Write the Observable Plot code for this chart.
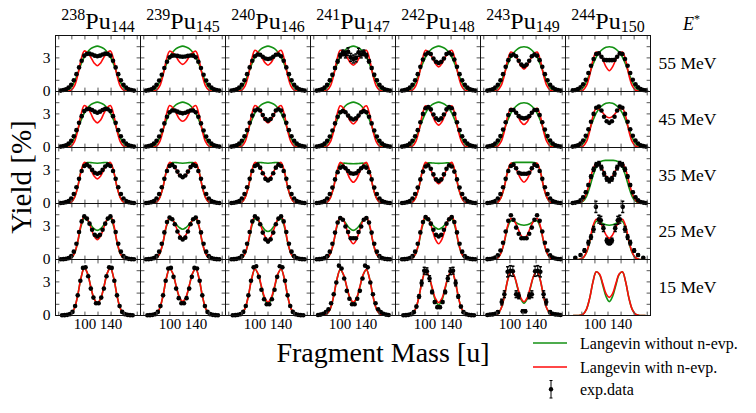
<!DOCTYPE html>
<html><head><meta charset="utf-8">
<script src="https://cdn.jsdelivr.net/npm/d3@7"></script>
<script src="https://cdn.jsdelivr.net/npm/@observablehq/plot@0.6"></script>
<style>body{margin:0;background:#fff} svg{display:block} svg text{font-family:'Liberation Serif','Times New Roman',serif}</style>
</head><body><div id="chart"></div>
<script>
// ---------- categories / ticks ----------
const massNumbers = [238,239,240,241,242,243,244];
const neutronNumbers = [144,145,146,147,148,149,150];
const energies = [55,45,35,25,15];
const centers = [119,119.5,120,120.5,121,121.5,122];
const xTickLabels = [100,140];
const yTickLabels = [0,3];
const xMinorTicks = [60,80,100,120,140,160,180];
const yMinorTicks = [1,2,3,4];
const curveOffsets = [-55,-50,-45,-40,-35,-30,-25,-20,-15,-10,-5,0,5,10,15,20,25,30,35,40,45,50,55];
const expOffsets = [-56,-52,-48,-44,-40,-36,-32,-28,-24,-20,-16,-12,-8,-4,0,4,8,12,16,20,24,28,32,36,40,44,48,52,56];
const expOffsets15 = [-54,-50,-46,-42,-38,-34,-30,-26,-22,-18,-14,-10,-6,-2,2,6,10,14,18,22,26,30,34,38,42,46,50,54];

// ---------- Langevin without n-evp. (green) ----------
const green55 = [
 [0,0.03,0.11,0.36,0.88,1.62,2.42,3.08,3.52,3.82,3.98,4.05,3.98,3.82,3.52,3.08,2.42,1.62,0.88,0.36,0.11,0.03,0],
 [0,0.03,0.11,0.36,0.88,1.62,2.42,3.08,3.52,3.82,3.98,4.05,3.98,3.82,3.52,3.08,2.42,1.62,0.88,0.36,0.11,0.03,0],
 [0,0.03,0.11,0.36,0.88,1.62,2.42,3.08,3.52,3.82,3.98,4.05,3.98,3.82,3.52,3.08,2.42,1.62,0.88,0.36,0.11,0.03,0],
 [0,0.03,0.11,0.36,0.88,1.62,2.42,3.08,3.52,3.82,3.98,4.05,3.98,3.82,3.52,3.08,2.42,1.62,0.88,0.36,0.11,0.03,0],
 [0,0.03,0.11,0.36,0.88,1.62,2.42,3.08,3.52,3.82,3.98,4.05,3.98,3.82,3.52,3.08,2.42,1.62,0.88,0.36,0.11,0.03,0],
 [0,0.03,0.11,0.36,0.88,1.62,2.42,3.06,3.5,3.78,3.94,4.0,3.94,3.78,3.5,3.06,2.42,1.62,0.88,0.36,0.11,0.03,0],
 [0,0.03,0.11,0.36,0.88,1.62,2.42,3.06,3.5,3.78,3.94,4.0,3.94,3.78,3.5,3.06,2.42,1.62,0.88,0.36,0.11,0.03,0]
];
const green45 = [
 [0,0.03,0.11,0.36,0.88,1.62,2.42,3.08,3.52,3.82,3.98,4.05,3.98,3.82,3.52,3.08,2.42,1.62,0.88,0.36,0.11,0.03,0],
 [0,0.03,0.11,0.36,0.88,1.62,2.42,3.08,3.52,3.82,3.98,4.05,3.98,3.82,3.52,3.08,2.42,1.62,0.88,0.36,0.11,0.03,0],
 [0,0.03,0.11,0.36,0.88,1.62,2.42,3.08,3.52,3.82,3.98,4.05,3.98,3.82,3.52,3.08,2.42,1.62,0.88,0.36,0.11,0.03,0],
 [0,0.03,0.11,0.36,0.88,1.62,2.42,3.08,3.52,3.82,3.98,4.05,3.98,3.82,3.52,3.08,2.42,1.62,0.88,0.36,0.11,0.03,0],
 [0,0.03,0.11,0.36,0.88,1.62,2.42,3.08,3.52,3.82,3.98,4.05,3.98,3.82,3.52,3.08,2.42,1.62,0.88,0.36,0.11,0.03,0],
 [0,0.03,0.11,0.36,0.88,1.62,2.42,3.06,3.5,3.78,3.94,4.0,3.94,3.78,3.5,3.06,2.42,1.62,0.88,0.36,0.11,0.03,0],
 [0,0.03,0.11,0.36,0.88,1.62,2.42,3.06,3.5,3.78,3.94,4.0,3.94,3.78,3.5,3.06,2.42,1.62,0.88,0.36,0.11,0.03,0]
];
const green35 = [
 [0,0,0.02,0.13,0.55,1.5,2.85,3.55,3.66,3.65,3.62,3.6,3.62,3.65,3.66,3.55,2.85,1.5,0.55,0.13,0.02,0,0],
 [0,0,0.02,0.13,0.55,1.5,2.85,3.55,3.66,3.65,3.62,3.6,3.62,3.65,3.66,3.55,2.85,1.5,0.55,0.13,0.02,0,0],
 [0,0,0.02,0.13,0.55,1.5,2.85,3.55,3.66,3.65,3.62,3.6,3.62,3.65,3.66,3.55,2.85,1.5,0.55,0.13,0.02,0,0],
 [0,0,0.02,0.13,0.55,1.5,2.85,3.52,3.6,3.58,3.56,3.55,3.56,3.58,3.6,3.52,2.85,1.5,0.55,0.13,0.02,0,0],
 [0,0,0.02,0.13,0.55,1.5,2.85,3.55,3.64,3.62,3.6,3.58,3.6,3.62,3.64,3.55,2.85,1.5,0.55,0.13,0.02,0,0],
 [0,0,0.02,0.13,0.55,1.5,2.85,3.55,3.66,3.67,3.67,3.67,3.67,3.67,3.66,3.55,2.85,1.5,0.55,0.13,0.02,0,0],
 [0,0.01,0.05,0.2,0.62,1.45,2.45,3.25,3.68,3.82,3.85,3.85,3.85,3.82,3.68,3.25,2.45,1.45,0.62,0.2,0.05,0.01,0]
];
const green25 = [
 [0,0,0.02,0.12,0.55,1.55,2.95,3.65,3.5,3.1,2.75,2.6,2.75,3.1,3.5,3.65,2.95,1.55,0.55,0.12,0.02,0,0],
 [0,0,0.02,0.12,0.54,1.52,2.92,3.6,3.48,3.15,2.85,2.7,2.85,3.15,3.48,3.6,2.92,1.52,0.54,0.12,0.02,0,0],
 [0,0,0.02,0.12,0.54,1.53,2.93,3.62,3.48,3.05,2.65,2.5,2.65,3.05,3.48,3.62,2.93,1.53,0.54,0.12,0.02,0,0],
 [0,0,0.02,0.12,0.55,1.55,2.95,3.63,3.5,3.1,2.75,2.6,2.75,3.1,3.5,3.63,2.95,1.55,0.55,0.12,0.02,0,0],
 [0,0,0.02,0.12,0.54,1.52,2.92,3.62,3.48,3.15,2.85,2.7,2.85,3.15,3.48,3.62,2.92,1.52,0.54,0.12,0.02,0,0],
 [0,0,0.02,0.14,0.6,1.58,2.85,3.45,3.4,3.22,3.1,3.06,3.1,3.22,3.4,3.45,2.85,1.58,0.6,0.14,0.02,0,0],
 [0,0,0.03,0.15,0.6,1.55,2.8,3.42,3.4,3.22,3.1,3.06,3.1,3.22,3.4,3.42,2.8,1.55,0.6,0.15,0.03,0,0]
];
const green15 = [
 [0,0,0.03,0.16,0.65,1.8,3.36,4.25,3.75,2.55,1.5,1.1,1.5,2.55,3.75,4.25,3.36,1.8,0.65,0.16,0.03,0,0],
 [0,0,0.03,0.16,0.65,1.78,3.32,4.2,3.74,2.62,1.6,1.2,1.6,2.62,3.74,4.2,3.32,1.78,0.65,0.16,0.03,0,0],
 [0,0,0.03,0.16,0.64,1.76,3.28,4.15,3.65,2.5,1.45,1.03,1.45,2.5,3.65,4.15,3.28,1.76,0.64,0.16,0.03,0,0],
 [0,0,0.03,0.16,0.64,1.75,3.25,4.1,3.62,2.52,1.5,1.1,1.5,2.52,3.62,4.1,3.25,1.75,0.64,0.16,0.03,0,0],
 [0,0,0.03,0.15,0.62,1.7,3.15,3.97,3.5,2.4,1.35,0.94,1.35,2.4,3.5,3.97,3.15,1.7,0.62,0.15,0.03,0,0],
 [0,0,0.03,0.15,0.62,1.7,3.15,3.97,3.55,2.5,1.48,1.1,1.48,2.5,3.55,3.97,3.15,1.7,0.62,0.15,0.03,0,0],
 [0,0,0.02,0.13,0.55,1.55,3.0,3.9,3.65,2.7,1.7,1.24,1.7,2.7,3.65,3.9,3.0,1.55,0.55,0.13,0.02,0,0]
];

// ---------- Langevin with n-evp. (red) ----------
const red55 = [
 [0,0,0.02,0.12,0.5,1.45,2.82,3.62,3.45,3.05,2.55,2.3,2.55,3.05,3.45,3.62,2.82,1.45,0.5,0.12,0.02,0,0],
 [0,0,0.02,0.12,0.5,1.45,2.82,3.6,3.45,3.1,2.65,2.42,2.65,3.1,3.45,3.6,2.82,1.45,0.5,0.12,0.02,0,0],
 [0,0,0.02,0.12,0.5,1.45,2.85,3.68,3.5,3.1,2.6,2.35,2.6,3.1,3.5,3.68,2.85,1.45,0.5,0.12,0.02,0,0],
 [0,0,0.02,0.12,0.5,1.45,2.85,3.68,3.5,3.1,2.6,2.35,2.6,3.1,3.5,3.68,2.85,1.45,0.5,0.12,0.02,0,0],
 [0,0,0.02,0.12,0.5,1.45,2.85,3.68,3.5,3.05,2.5,2.2,2.5,3.05,3.5,3.68,2.85,1.45,0.5,0.12,0.02,0,0],
 [0,0,0.02,0.13,0.52,1.45,2.8,3.52,3.35,2.9,2.3,2.0,2.3,2.9,3.35,3.52,2.8,1.45,0.52,0.13,0.02,0,0],
 [0,0,0.02,0.13,0.52,1.45,2.8,3.52,3.35,2.85,2.2,1.85,2.2,2.85,3.35,3.52,2.8,1.45,0.52,0.13,0.02,0,0]
];
const red45 = [
 [0,0,0.02,0.12,0.52,1.5,2.92,3.75,3.55,3.05,2.45,2.2,2.45,3.05,3.55,3.75,2.92,1.5,0.52,0.12,0.02,0,0],
 [0,0,0.02,0.12,0.52,1.5,2.92,3.75,3.55,3.08,2.55,2.35,2.55,3.08,3.55,3.75,2.92,1.5,0.52,0.12,0.02,0,0],
 [0,0,0.02,0.12,0.52,1.5,2.92,3.75,3.55,3.05,2.45,2.2,2.45,3.05,3.55,3.75,2.92,1.5,0.52,0.12,0.02,0,0],
 [0,0,0.02,0.12,0.52,1.5,2.92,3.72,3.5,3.0,2.38,2.1,2.38,3.0,3.5,3.72,2.92,1.5,0.52,0.12,0.02,0,0],
 [0,0,0.02,0.12,0.52,1.5,2.92,3.72,3.5,2.95,2.3,2.0,2.3,2.95,3.5,3.72,2.92,1.5,0.52,0.12,0.02,0,0],
 [0,0,0.02,0.13,0.52,1.45,2.8,3.5,3.35,2.9,2.3,2.05,2.3,2.9,3.35,3.5,2.8,1.45,0.52,0.13,0.02,0,0],
 [0,0,0.02,0.13,0.52,1.45,2.8,3.5,3.4,3.1,2.78,2.65,2.78,3.1,3.4,3.5,2.8,1.45,0.52,0.13,0.02,0,0]
];
const red35 = [
 [0,0,0.02,0.12,0.53,1.48,2.85,3.67,3.5,3.0,2.45,2.2,2.45,3.0,3.5,3.67,2.85,1.48,0.53,0.12,0.02,0,0],
 [0,0,0.02,0.12,0.53,1.48,2.85,3.67,3.5,3.02,2.5,2.28,2.5,3.02,3.5,3.67,2.85,1.48,0.53,0.12,0.02,0,0],
 [0,0,0.02,0.12,0.53,1.48,2.85,3.67,3.5,3.0,2.45,2.2,2.45,3.0,3.5,3.67,2.85,1.48,0.53,0.12,0.02,0,0],
 [0,0,0.02,0.12,0.53,1.48,2.85,3.67,3.45,2.85,2.2,1.9,2.2,2.85,3.45,3.67,2.85,1.48,0.53,0.12,0.02,0,0],
 [0,0,0.02,0.12,0.53,1.48,2.85,3.67,3.42,2.75,2.05,1.75,2.05,2.75,3.42,3.67,2.85,1.48,0.53,0.12,0.02,0,0],
 [0,0,0.02,0.13,0.55,1.5,2.85,3.6,3.4,2.82,2.2,1.9,2.2,2.82,3.4,3.6,2.85,1.5,0.55,0.13,0.02,0,0],
 [0,0.01,0.07,0.3,0.9,1.95,3.05,3.6,3.45,3.0,2.45,2.2,2.45,3.0,3.45,3.6,3.05,1.95,0.9,0.3,0.07,0.01,0]
];
const red25 = [
 [0,0,0.02,0.12,0.55,1.6,3.1,3.88,3.6,2.85,2.1,1.76,2.1,2.85,3.6,3.88,3.1,1.6,0.55,0.12,0.02,0,0],
 [0,0,0.02,0.12,0.54,1.55,3.0,3.76,3.55,2.9,2.2,1.9,2.2,2.9,3.55,3.76,3.0,1.55,0.54,0.12,0.02,0,0],
 [0,0,0.02,0.12,0.55,1.6,3.1,3.88,3.6,2.85,2.1,1.76,2.1,2.85,3.6,3.88,3.1,1.6,0.55,0.12,0.02,0,0],
 [0,0,0.02,0.12,0.55,1.58,3.05,3.8,3.52,2.68,1.8,1.41,1.8,2.68,3.52,3.8,3.05,1.58,0.55,0.12,0.02,0,0],
 [0,0,0.02,0.12,0.55,1.6,3.1,3.88,3.6,2.72,1.8,1.41,1.8,2.72,3.6,3.88,3.1,1.6,0.55,0.12,0.02,0,0],
 [0,0,0.02,0.14,0.6,1.62,3.0,3.68,3.45,2.88,2.2,1.9,2.2,2.88,3.45,3.68,3.0,1.62,0.6,0.14,0.02,0,0],
 [0,0,0.03,0.17,0.65,1.65,2.98,3.59,3.4,2.85,2.2,1.9,2.2,2.85,3.4,3.59,2.98,1.65,0.65,0.17,0.03,0,0]
];
const red15 = [
 [0,0,0.03,0.16,0.65,1.8,3.36,4.25,3.75,2.55,1.5,1.1,1.5,2.55,3.75,4.25,3.36,1.8,0.65,0.16,0.03,0,0],
 [0,0,0.03,0.16,0.65,1.78,3.32,4.2,3.75,2.65,1.65,1.27,1.65,2.65,3.75,4.2,3.32,1.78,0.65,0.16,0.03,0,0],
 [0,0,0.03,0.16,0.64,1.76,3.28,4.15,3.7,2.6,1.6,1.2,1.6,2.6,3.7,4.15,3.28,1.76,0.64,0.16,0.03,0,0],
 [0,0,0.03,0.16,0.64,1.75,3.25,4.1,3.65,2.58,1.58,1.2,1.58,2.58,3.65,4.1,3.25,1.75,0.64,0.16,0.03,0,0],
 [0,0,0.03,0.15,0.62,1.7,3.15,3.97,3.55,2.52,1.52,1.15,1.52,2.52,3.55,3.97,3.15,1.7,0.62,0.15,0.03,0,0],
 [0,0,0.03,0.15,0.62,1.7,3.15,3.97,3.57,2.58,1.6,1.24,1.6,2.58,3.57,3.97,3.15,1.7,0.62,0.15,0.03,0,0],
 [0,0,0.02,0.13,0.55,1.55,3.0,3.9,3.7,2.85,1.95,1.62,1.95,2.85,3.7,3.9,3.0,1.55,0.55,0.13,0.02,0,0]
];

// ---------- exp.data (yields at expOffsets; row 15 at expOffsets15) ----------
const exp55 = [
 [0.08,0.13,0.2,0.35,0.6,1.0,1.55,2.15,2.75,3.2,3.35,3.38,3.3,3.2,3.15,3.2,3.3,3.38,3.35,3.2,2.75,2.15,1.55,1.0,0.6,0.35,0.2,0.13,0.08],
 [0.08,0.12,0.2,0.35,0.6,0.98,1.5,2.1,2.65,3.05,3.2,3.22,3.18,3.12,3.1,3.12,3.18,3.22,3.2,3.05,2.65,2.1,1.5,0.98,0.6,0.35,0.2,0.12,0.08],
 [0.08,0.12,0.2,0.35,0.6,1.0,1.55,2.15,2.75,3.15,3.3,3.28,3.1,2.95,2.9,2.95,3.1,3.28,3.3,3.15,2.75,2.15,1.55,1.0,0.6,0.35,0.2,0.12,0.08],
 [0.08,0.12,0.2,0.35,0.6,1.0,1.5,2.1,2.7,3.2,3.45,3.3,3.55,3.05,2.9,3.0,3.5,3.3,3.45,3.2,2.7,2.1,1.5,1.0,0.6,0.35,0.2,0.12,0.08],
 [0.08,0.12,0.2,0.35,0.6,1.0,1.55,2.2,2.85,3.3,3.45,3.35,2.95,2.65,2.55,2.65,2.95,3.35,3.45,3.3,2.85,2.2,1.55,1.0,0.6,0.35,0.2,0.12,0.08],
 [0.08,0.12,0.2,0.35,0.6,1.0,1.55,2.2,2.8,3.2,3.3,3.15,2.75,2.4,2.25,2.4,2.75,3.15,3.3,3.2,2.8,2.2,1.55,1.0,0.6,0.35,0.2,0.12,0.08],
 [0.1,0.14,0.22,0.38,0.65,1.05,1.65,2.3,2.9,3.35,3.4,3.1,2.82,2.8,2.8,2.8,2.82,3.1,3.4,3.35,2.9,2.3,1.65,1.05,0.65,0.38,0.22,0.14,0.1]
];
const exp45 = [
 [0.08,0.12,0.2,0.35,0.6,1.0,1.55,2.2,2.8,3.25,3.42,3.45,3.35,3.2,3.1,3.2,3.35,3.45,3.42,3.25,2.8,2.2,1.55,1.0,0.6,0.35,0.2,0.12,0.08],
 [0.08,0.12,0.2,0.35,0.6,0.98,1.52,2.15,2.75,3.15,3.3,3.3,3.2,3.1,3.05,3.1,3.2,3.3,3.3,3.15,2.75,2.15,1.52,0.98,0.6,0.35,0.2,0.12,0.08],
 [0.08,0.12,0.2,0.35,0.6,1.0,1.55,2.2,2.85,3.3,3.42,3.3,2.9,2.55,2.4,2.55,2.9,3.3,3.42,3.3,2.85,2.2,1.55,1.0,0.6,0.35,0.2,0.12,0.08],
 [0.08,0.12,0.2,0.35,0.6,0.98,1.52,2.15,2.75,3.15,3.25,3.15,2.85,2.6,2.5,2.6,2.85,3.15,3.25,3.15,2.75,2.15,1.52,0.98,0.6,0.35,0.2,0.12,0.08],
 [0.08,0.12,0.2,0.35,0.6,1.0,1.55,2.25,3.0,3.5,3.62,3.4,2.95,2.6,2.45,2.6,2.95,3.4,3.62,3.5,3.0,2.25,1.55,1.0,0.6,0.35,0.2,0.12,0.08],
 [0.08,0.12,0.2,0.36,0.62,1.02,1.6,2.25,2.9,3.35,3.35,3.1,2.8,2.65,2.6,2.65,2.8,3.1,3.35,3.35,2.9,2.25,1.6,1.02,0.62,0.36,0.2,0.12,0.08],
 [0.08,0.12,0.2,0.36,0.62,1.05,1.62,2.3,3.0,3.55,3.65,3.3,2.75,2.35,2.2,2.35,2.75,3.3,3.65,3.55,3.0,2.3,1.62,1.05,0.62,0.36,0.2,0.12,0.08]
];
const exp35 = [
 [0.04,0.07,0.12,0.22,0.45,0.85,1.45,2.2,2.9,3.35,3.47,3.3,3.0,2.75,2.65,2.75,3.0,3.3,3.47,3.35,2.9,2.2,1.45,0.85,0.45,0.22,0.12,0.07,0.04],
 [0.04,0.07,0.12,0.22,0.45,0.85,1.45,2.2,2.9,3.35,3.45,3.25,2.85,2.5,2.35,2.5,2.85,3.25,3.45,3.35,2.9,2.2,1.45,0.85,0.45,0.22,0.12,0.07,0.04],
 [0.04,0.07,0.12,0.22,0.45,0.85,1.45,2.2,2.9,3.35,3.47,3.2,2.7,2.2,2.05,2.2,2.7,3.2,3.47,3.35,2.9,2.2,1.45,0.85,0.45,0.22,0.12,0.07,0.04],
 [0.04,0.07,0.12,0.22,0.45,0.85,1.42,2.15,2.8,3.2,3.3,3.15,2.9,2.7,2.65,2.7,2.9,3.15,3.3,3.2,2.8,2.15,1.42,0.85,0.45,0.22,0.12,0.07,0.04],
 [0.04,0.07,0.12,0.22,0.45,0.85,1.42,2.15,2.85,3.3,3.4,3.1,2.6,2.15,2.0,2.15,2.6,3.1,3.4,3.3,2.85,2.15,1.42,0.85,0.45,0.22,0.12,0.07,0.04],
 [0.04,0.07,0.12,0.22,0.45,0.85,1.45,2.2,2.9,3.35,3.47,3.15,2.75,2.65,2.65,2.65,2.75,3.15,3.47,3.35,2.9,2.2,1.45,0.85,0.45,0.22,0.12,0.07,0.04],
 [0.05,0.08,0.14,0.28,0.55,1.0,1.65,2.4,3.05,3.45,3.55,3.2,2.65,2.2,2.05,2.2,2.65,3.2,3.55,3.45,3.05,2.4,1.65,1.0,0.55,0.28,0.14,0.08,0.05]
];
const exp25 = [
 [0.02,0.03,0.06,0.12,0.3,0.7,1.4,2.45,3.4,3.85,3.65,3.2,2.65,2.2,2.06,2.2,2.65,3.2,3.65,3.85,3.4,2.45,1.4,0.7,0.3,0.12,0.06,0.03,0.02],
 [0.02,0.03,0.06,0.12,0.3,0.7,1.4,2.42,3.35,3.75,3.6,3.15,2.5,1.95,1.78,1.95,2.5,3.15,3.6,3.75,3.35,2.42,1.4,0.7,0.3,0.12,0.06,0.03,0.02],
 [0.02,0.03,0.06,0.12,0.3,0.7,1.4,2.45,3.4,3.85,3.65,3.15,2.4,1.8,1.6,1.8,2.4,3.15,3.65,3.85,3.4,2.45,1.4,0.7,0.3,0.12,0.06,0.03,0.02],
 [0.02,0.03,0.06,0.12,0.3,0.7,1.4,2.4,3.3,3.7,3.55,2.95,2.45,1.9,1.9,1.9,2.45,2.95,3.55,3.7,3.3,2.4,1.4,0.7,0.3,0.12,0.06,0.03,0.02],
 [0.02,0.03,0.06,0.12,0.3,0.7,1.4,2.42,3.35,3.8,3.6,3.2,2.65,2.2,2.06,2.2,2.65,3.2,3.6,3.8,3.35,2.42,1.4,0.7,0.3,0.12,0.06,0.03,0.02],
 [0.03,0.05,0.09,0.18,0.38,0.8,1.5,2.5,3.45,3.95,3.55,2.85,2.3,1.9,1.9,1.9,2.3,2.85,3.55,3.95,3.45,2.5,1.5,0.8,0.38,0.18,0.09,0.05,0.03],
 null
];
const exp15 = [
 [0.02,0.03,0.06,0.12,0.32,0.85,1.8,3.1,4.25,4.3,3.5,2.4,1.6,1.1,1.1,1.6,2.4,3.5,4.3,4.25,3.1,1.8,0.85,0.32,0.12,0.06,0.03,0.02],
 [0.02,0.03,0.06,0.12,0.32,0.85,1.8,3.1,4.2,4.25,3.45,2.4,1.55,1.1,1.1,1.55,2.4,3.45,4.25,4.2,3.1,1.8,0.85,0.32,0.12,0.06,0.03,0.02],
 [0.02,0.03,0.06,0.12,0.32,0.85,1.8,3.1,4.3,4.4,3.45,2.3,1.45,1.0,1.0,1.45,2.3,3.45,4.4,4.3,3.1,1.8,0.85,0.32,0.12,0.06,0.03,0.02],
 [0.05,0.08,0.15,0.3,0.55,1.1,1.9,2.95,4.45,4.2,3.3,2.2,1.5,1.0,1.0,1.5,2.2,3.3,4.45,4.3,2.95,1.9,1.1,0.55,0.3,0.15,0.08,0.05],
 [0.02,0.03,0.06,0.12,0.3,0.8,1.7,2.9,4.0,3.95,3.3,2.1,1.2,0.74,0.74,1.2,2.1,3.3,3.95,4.0,2.9,1.7,0.8,0.3,0.12,0.06,0.03,0.02],
 null,
 null
];
// error bars (same alignment as the yields above)
const err55 = [null,null,null,
 [0.02,0.03,0.04,0.05,0.07,0.08,0.1,0.12,0.15,0.2,0.25,0.3,0.35,0.35,0.35,0.35,0.35,0.3,0.25,0.2,0.15,0.12,0.1,0.08,0.07,0.05,0.04,0.03,0.02],
 null,null,null];
const err35 = [null,null,null,null,null,null,
 [0.02,0.03,0.04,0.05,0.08,0.1,0.12,0.15,0.18,0.2,0.2,0.2,0.2,0.2,0.2,0.2,0.2,0.2,0.2,0.2,0.18,0.15,0.12,0.1,0.08,0.05,0.04,0.03,0.02]];
const err15 = [null,null,null,null,
 [0.02,0.02,0.02,0.03,0.05,0.1,0.15,0.25,0.3,0.3,0.25,0.15,0.12,0.1,0.1,0.12,0.15,0.25,0.3,0.3,0.25,0.15,0.1,0.05,0.03,0.02,0.02,0.02],
 null,null];
// sparse data sets
const exp25Pu244Offsets = [-52,-44,-38,-32,-28,-24,-20.5,-16,-13,-9,-4,-2,0,2,4,9,13,16,20.5,24,28,32,38,44,52];
const exp25Pu244Yield = [0.15,0.4,0.8,1.5,2.0,2.7,4.7,3.6,3.5,2.8,1.7,1.55,1.5,1.55,1.7,2.8,3.5,3.6,4.7,2.7,2.0,1.5,0.8,0.4,0.15];
const exp25Pu244Err = [0.05,0.1,0.15,0.2,0.2,0.25,0.5,0.35,0.35,0.3,0.2,0.2,0.2,0.2,0.2,0.3,0.35,0.35,0.5,0.25,0.2,0.2,0.15,0.1,0.05];
const exp15Pu243Offsets = [-56,-52,-48,-44,-40,-34,-30,-25,-21,-17,-12,-8,-2,2,8,12,17,21,25,30,34,40,44,48,52,56];
const exp15Pu243Yield = [0.05,0.08,0.1,0.15,0.3,1.2,1.9,3.9,4.0,3.95,1.9,1.75,0.38,0.38,1.75,1.9,3.95,4.0,3.9,1.9,1.2,0.3,0.15,0.1,0.08,0.05];
const exp15Pu243Err = [0.03,0.03,0.04,0.05,0.1,0.25,0.3,0.45,0.45,0.45,0.3,0.25,0.12,0.12,0.25,0.3,0.45,0.45,0.45,0.3,0.25,0.1,0.05,0.04,0.03,0.03];

// ---------- build tables ----------
const greenByRow = {55: green55, 45: green45, 35: green35, 25: green25, 15: green15};
const redByRow = {55: red55, 45: red45, 35: red35, 25: red25, 15: red15};
const expByRow = {55: exp55, 45: exp45, 35: exp35, 25: exp25, 15: exp15};
const errByRow = {55: err55, 45: [], 35: err35, 25: [], 15: err15};

const greenRows = [], redRows = [], expRows = [];
energies.forEach(E => massNumbers.forEach((iso, c) => {
  curveOffsets.forEach((o, i) => {
    greenRows.push({iso, E, mass: centers[c] + o, y: greenByRow[E][c][i]});
    redRows.push({iso, E, mass: centers[c] + o, y: redByRow[E][c][i]});
  });
  const ys = expByRow[E][c];
  if (ys) {
    const offs = E === 15 ? expOffsets15 : expOffsets;
    const errs = errByRow[E][c] || null;
    offs.forEach((o, i) => expRows.push({iso, E, mass: centers[c] + o, y: ys[i], err: errs ? errs[i] : 0}));
  }
}));
exp25Pu244Offsets.forEach((o, i) => expRows.push({iso: 244, E: 25, mass: centers[6] + o, y: exp25Pu244Yield[i], err: exp25Pu244Err[i]}));
exp15Pu243Offsets.forEach((o, i) => expRows.push({iso: 243, E: 15, mass: centers[5] + o, y: exp15Pu243Yield[i], err: exp15Pu243Err[i]}));
const errRows = expRows.filter(d => d.err > 0);

// ---------- chart ----------
const GREEN = "#139113", RED = "#ff0a0a";
const FONT = "'Liberation Serif','Times New Roman',serif";
const tickShape = {draw(context, l) { context.moveTo(0, 0); context.lineTo(0, -l); }};
const capSymbol = {draw(context, size) { const w = Math.sqrt(size / Math.PI); context.moveTo(-w, 0); context.lineTo(w, 0); }};
const tickStyle = {length: 3.5, anchor: "start", shape: tickShape, stroke: "#555", strokeWidth: 1};

const plot = Plot.plot({
  width: 756, height: 413,
  marginLeft: 52, marginRight: 103, marginTop: 33, marginBottom: 96,
  style: {fontFamily: FONT, background: "white", color: "black", overflow: "visible"},
  x: {domain: [55, 185]},
  y: {domain: [0, 5]},
  fx: {domain: massNumbers, padding: 0},
  fy: {domain: energies, padding: 0},
  marks: [
    Plot.line(greenRows, {x: "mass", y: "y", fx: "iso", fy: "E", stroke: GREEN, strokeWidth: 1.6, curve: "catmull-rom", clip: true}),
    Plot.line(redRows, {x: "mass", y: "y", fx: "iso", fy: "E", stroke: RED, strokeWidth: 1.6, curve: "catmull-rom", clip: true}),
    Plot.ruleX(errRows, {x: "mass", y1: d => d.y - d.err, y2: d => d.y + d.err, fx: "iso", fy: "E", stroke: "black", strokeWidth: 1}),
    Plot.dot(errRows, {x: "mass", y: d => d.y + d.err, fx: "iso", fy: "E", symbol: capSymbol, r: 1.6, stroke: "black", fill: "none"}),
    Plot.dot(errRows, {x: "mass", y: d => d.y - d.err, fx: "iso", fy: "E", symbol: capSymbol, r: 1.6, stroke: "black", fill: "none"}),
    Plot.dot(expRows, {x: "mass", y: "y", fx: "iso", fy: "E", r: 2.3, fill: "black", stroke: null}),
    Plot.vector(yMinorTicks, {y: d => d, frameAnchor: "left", rotate: 90, ...tickStyle}),
    Plot.vector(yMinorTicks, {y: d => d, frameAnchor: "right", rotate: -90, ...tickStyle}),
    Plot.vector(xMinorTicks, {x: d => d, frameAnchor: "bottom", rotate: 0, ...tickStyle}),
    Plot.vector(xMinorTicks, {x: d => d, frameAnchor: "top", rotate: 180, ...tickStyle}),
    Plot.frame({stroke: "#111", strokeWidth: 1}),
    Plot.axisX(xTickLabels, {anchor: "bottom", facetAnchor: "bottom", tickSize: 0, tickPadding: 3, fontSize: 15, fontFamily: FONT, label: null}),
    Plot.axisY(yTickLabels, {anchor: "left", facetAnchor: "left", tickSize: 0, tickPadding: 5, fontSize: 15.5, fontFamily: FONT, label: null}),
    Plot.axisFx({anchor: "top", tickSize: 0, tickPadding: 7, fontSize: 24, fontFamily: FONT, label: null, tickFormat: d => String(d)}),
    Plot.axisFy({anchor: "right", tickSize: 0, tickPadding: 8, fontSize: 17.5, fontFamily: FONT, label: null, tickFormat: d => `${d} MeV`})
  ]
});

const svg = d3.select(plot).attr("font-family", FONT);
// column headings with superscript mass number and subscript neutron number
svg.selectAll("text").each(function() {
  const i = massNumbers.indexOf(+this.textContent);
  if (i < 0 || !this.closest('[aria-label*="fx-axis"]')) return;
  const s = d3.select(this); s.text(null);
  s.append("tspan").attr("font-size", 16).attr("dy", -9).text(massNumbers[i]);
  s.append("tspan").attr("font-size", 24).attr("dy", 9).text("Pu");
  s.append("tspan").attr("font-size", 16).attr("dy", 3).text(neutronNumbers[i]);
});
// E* heading
const eStar = svg.append("text").attr("x", 683).attr("y", 29.5).attr("font-size", 18).attr("text-anchor", "start");
eStar.append("tspan").attr("font-style", "italic").text("E");
eStar.append("tspan").attr("font-size", 12).attr("dy", -7).text("*");
// axis titles
svg.append("text").attr("transform", "translate(31,177) rotate(-90)").attr("text-anchor", "middle")
  .attr("font-size", 29).text("Yield [%]");
svg.append("text").attr("x", 383).attr("y", 362).attr("text-anchor", "middle")
  .attr("font-size", 28).text("Fragment Mass [u]");
// legend
const lg = svg.append("g").attr("font-size", 16).attr("text-anchor", "start");
lg.append("line").attr("x1", 533).attr("x2", 567).attr("y1", 343).attr("y2", 343).attr("stroke", GREEN).attr("stroke-width", 1.6);
lg.append("text").attr("x", 580).attr("y", 349).text("Langevin without n-evp.");
lg.append("line").attr("x1", 533).attr("x2", 567).attr("y1", 367).attr("y2", 367).attr("stroke", RED).attr("stroke-width", 1.6);
lg.append("text").attr("x", 580).attr("y", 373).text("Langevin with n-evp.");
lg.append("line").attr("x1", 551).attr("x2", 551).attr("y1", 380.5).attr("y2", 398).attr("stroke", "black");
lg.append("line").attr("x1", 549.5).attr("x2", 552.5).attr("y1", 380.5).attr("y2", 380.5).attr("stroke", "black");
lg.append("line").attr("x1", 549.5).attr("x2", 552.5).attr("y1", 398).attr("y2", 398).attr("stroke", "black");
lg.append("circle").attr("cx", 551).attr("cy", 389.3).attr("r", 2.2).attr("fill", "black");
lg.append("text").attr("x", 580).attr("y", 395).text("exp.data");

document.getElementById("chart").append(plot);
</script></body></html>
